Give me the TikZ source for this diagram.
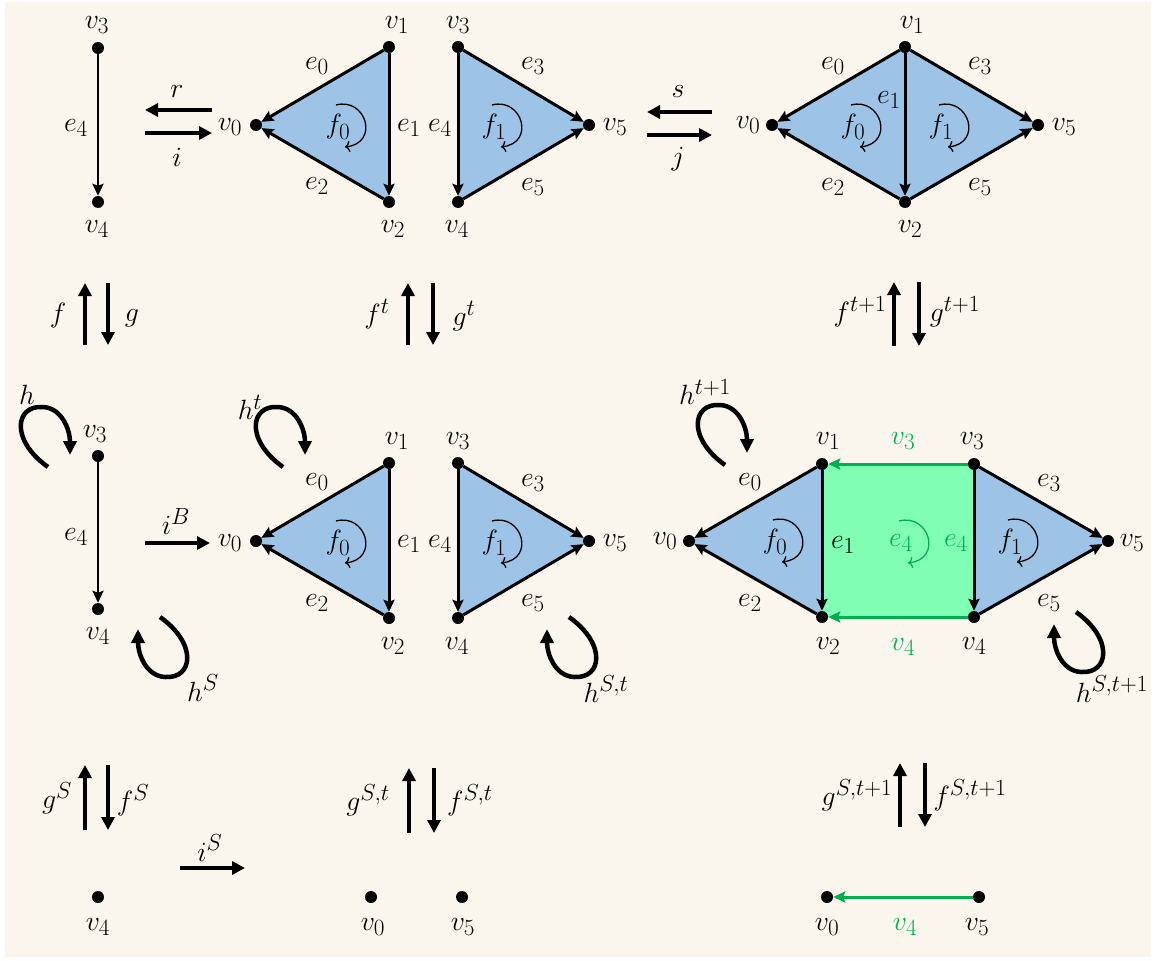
\documentclass[tikz,border=0pt]{standalone}
\usepackage{amsmath, amssymb}
\usepackage{tikz}
\usetikzlibrary{arrows.meta,backgrounds}

\definecolor{paper}{RGB}{250,246,238}
\definecolor{faceblue}{RGB}{157,195,230}
\definecolor{facegreen}{RGB}{128,255,180}
\definecolor{edgegreen}{RGB}{0,176,80}

\tikzset{
  hloop/.pic={\draw[loopy] (0,0) .. controls (-38,-27) and (-33,-62) .. (-5,-60)
      .. controls (14,-59) and (22,-37) .. (22,-12);},
  turn/.pic={\draw[line width=1.3pt, -{To[length=5pt,width=11pt]}]
      (-2,-22) .. controls (28,-30) and (42,16) .. (7,20);},
}

\begin{document}
\begin{tikzpicture}[x=1pt, y=-1pt,
    font=\Huge,
    dot/.style={circle, fill=black, inner sep=0pt, minimum size=12pt},
    lbl/.style={inner sep=0pt, scale=1.12, transform shape},
    edge/.style={line width=3pt, -{Stealth[length=12pt,width=11pt,inset=2pt]}},
    map/.style={line width=4pt, -{Triangle[length=13pt,width=13pt]}},
    loopy/.style={line width=4.5pt, -{Triangle[length=14pt,width=13pt]}}]

    \useasboundingbox (0,0) rectangle (1155,960);

    % vertices
    \node[dot] (a3) at (98,48) {};
    \node[dot] (a4) at (98,202) {};
    \node[dot] (b0) at (256,125) {};
    \node[dot] (b1) at (389,47) {};
    \node[dot] (b2) at (389,202) {};
    \node[dot] (b3) at (458,47) {};
    \node[dot] (b4) at (458,202) {};
    \node[dot] (b5) at (589,125) {};
    \node[dot] (c0) at (772,125) {};
    \node[dot] (c1) at (905,47) {};
    \node[dot] (c2) at (905,202) {};
    \node[dot] (c5) at (1038,125) {};

    \node[dot] (d3) at (98,456) {};
    \node[dot] (d4) at (98,609) {};
    \node[dot] (p0) at (256,541) {};
    \node[dot] (p1) at (389,463) {};
    \node[dot] (p2) at (389,618) {};
    \node[dot] (p3) at (458,463) {};
    \node[dot] (p4) at (458,618) {};
    \node[dot] (p5) at (589,541) {};
    \node[dot] (q0) at (689,541) {};
    \node[dot] (q1) at (822,464) {};
    \node[dot] (q2) at (822,617) {};
    \node[dot] (q3) at (974,464) {};
    \node[dot] (q4) at (974,617) {};
    \node[dot] (q5) at (1108,541) {};

    \node[dot] (s4) at (98,897) {};
    \node[dot] (u0) at (371,897) {};
    \node[dot] (u5) at (462,897) {};
    \node[dot] (w0) at (827,897) {};
    \node[dot] (w5) at (979,897) {};

    \begin{scope}[on background layer]
        \fill[paper] (5,2) rectangle (1151,957);
        \fill[faceblue] (b0.center) -- (b1.center) -- (b2.center) -- cycle;
        \fill[faceblue] (b3.center) -- (b5.center) -- (b4.center) -- cycle;
        \fill[faceblue] (c0.center) -- (c1.center) -- (c5.center) -- (c2.center) -- cycle;
        \fill[faceblue] (p0.center) -- (p1.center) -- (p2.center) -- cycle;
        \fill[faceblue] (p3.center) -- (p5.center) -- (p4.center) -- cycle;
        \fill[faceblue] (q0.center) -- (q1.center) -- (q2.center) -- cycle;
        \fill[faceblue] (q3.center) -- (q5.center) -- (q4.center) -- cycle;
        \fill[facegreen] (q1.center) rectangle (q4.center);
    \end{scope}

    % edges
    \draw[edge, line width=2.4pt] (a3) -- (a4);
    \draw[edge] (b1) -- (b0);
    \draw[edge] (b2) -- (b0);
    \draw[edge] (b1) -- (b2);
    \draw[edge] (b3) -- (b4);
    \draw[edge] (b3) -- (b5);
    \draw[edge] (b4) -- (b5);
    \draw[edge] (c1) -- (c0);
    \draw[edge] (c2) -- (c0);
    \draw[edge] (c1) -- (c2);
    \draw[edge] (c1) -- (c5);
    \draw[edge] (c2) -- (c5);

    \draw[edge, line width=2.4pt] (d3) -- (d4);
    \draw[edge] (p1) -- (p0);
    \draw[edge] (p2) -- (p0);
    \draw[edge] (p1) -- (p2);
    \draw[edge] (p3) -- (p4);
    \draw[edge] (p3) -- (p5);
    \draw[edge] (p4) -- (p5);
    \draw[edge] (q1) -- (q0);
    \draw[edge] (q2) -- (q0);
    \draw[edge] (q1) -- (q2);
    \draw[edge] (q3) -- (q4);
    \draw[edge] (q3) -- (q5);
    \draw[edge] (q4) -- (q5);
    \draw[edge, edgegreen] (q3) -- (q1);
    \draw[edge, edgegreen] (q4) -- (q2);
    \draw[edge, edgegreen] (w5) -- (w0);

    % vertex and edge labels, top row
    \node[lbl] (la3) at (97,25) {$v_3$};
    \node[lbl] (la4) at (97,229) {$v_4$};
    \node[lbl] (lae4) at (76,128) {$e_4$};
    \node[lbl] (lb0) at (230,127) {$v_0$};
    \node[lbl] (lb1) at (397,25) {$v_1$};
    \node[lbl] (lb2) at (393,229) {$v_2$};
    \node[lbl] (lbe0) at (317,66) {$e_0$};
    \node[lbl] (lbe1) at (409,128) {$e_1$};
    \node[lbl] (lbe2) at (317,186) {$e_2$};
    \node[lbl] (lbf0) at (338,127) {$f_0$};
    \node[lbl] (lb3) at (458,25) {$v_3$};
    \node[lbl] (lb4) at (457,229) {$v_4$};
    \node[lbl] (lb5) at (615,127) {$v_5$};
    \node[lbl] (lbe3) at (533,66) {$e_3$};
    \node[lbl] (lbe4) at (440,128) {$e_4$};
    \node[lbl] (lbe5) at (533,187) {$e_5$};
    \node[lbl] (lbf1) at (494,127) {$f_1$};
    \node[lbl] (lc0) at (748,125) {$v_0$};
    \node[lbl] (lc1) at (912,25) {$v_1$};
    \node[lbl] (lc2) at (910,229) {$v_2$};
    \node[lbl] (lc5) at (1064,127) {$v_5$};
    \node[lbl] (lce0) at (833,66) {$e_0$};
    \node[lbl] (lce1) at (889,100) {$e_1$};
    \node[lbl] (lce2) at (833,187) {$e_2$};
    \node[lbl] (lce3) at (980,66) {$e_3$};
    \node[lbl] (lce5) at (980,187) {$e_5$};
    \node[lbl] (lcf0) at (853,127) {$f_0$};
    \node[lbl] (lcf1) at (941,127) {$f_1$};
    \pic at (lbf0) {turn};
    \pic at (lbf1) {turn};
    \pic at (lcf0) {turn};
    \pic at (lcf1) {turn};

    % middle row
    \node[lbl] (ld3) at (95,434) {$v_3$};
    \node[lbl] (ld4) at (98,636) {$v_4$};
    \node[lbl] (lde4) at (76,537) {$e_4$};
    \node[lbl] (lp0) at (230,543) {$v_0$};
    \node[lbl] (lp1) at (397,441) {$v_1$};
    \node[lbl] (lp2) at (393,646) {$v_2$};
    \node[lbl] (lpe0) at (317,482) {$e_0$};
    \node[lbl] (lpe1) at (409,544) {$e_1$};
    \node[lbl] (lpe2) at (317,603) {$e_2$};
    \node[lbl] (lpf0) at (338,543) {$f_0$};
    \node[lbl] (lp3) at (458,441) {$v_3$};
    \node[lbl] (lp4) at (457,646) {$v_4$};
    \node[lbl] (lp5) at (615,543) {$v_5$};
    \node[lbl] (lpe3) at (533,483) {$e_3$};
    \node[lbl] (lpe4) at (440,544) {$e_4$};
    \node[lbl] (lpe5) at (533,603) {$e_5$};
    \node[lbl] (lpf1) at (494,543) {$f_1$};
    \node[lbl] (lq0) at (665,541) {$v_0$};
    \node[lbl] (lq1) at (828,441) {$v_1$};
    \node[lbl] (lq2) at (828,646) {$v_2$};
    \node[lbl] (lq3) at (972,441) {$v_3$};
    \node[lbl] (lq4) at (974,646) {$v_4$};
    \node[lbl] (lq5) at (1132,543) {$v_5$};
    \node[lbl] (lqe0) at (750,482) {$e_0$};
    \node[lbl] (lqe1) at (843,545) {$e_1$};
    \node[lbl] (lqe2) at (750,603) {$e_2$};
    \node[lbl] (lqe3) at (1049,483) {$e_3$};
    \node[lbl] (lqe5) at (1049,603) {$e_5$};
    \node[lbl] (lqf0) at (775,542) {$f_0$};
    \node[lbl] (lqf1) at (1010,542) {$f_1$};
    \node[lbl, edgegreen] (lqg3) at (903,441) {$v_3$};
    \node[lbl, edgegreen] (lqg4) at (903,647) {$v_4$};
    \node[lbl, edgegreen] (lqgf) at (901,543) {$e_4$};
    \node[lbl, edgegreen] (lqge) at (956,543) {$e_4$};
    \pic at (lpf0) {turn};
    \pic at (lpf1) {turn};
    \pic at (lqf0) {turn};
    \pic at (lqf1) {turn};
    \pic[edgegreen] at (lqgf) {turn};

    % bottom row
    \node[lbl] (ls4) at (98,927) {$v_4$};
    \node[lbl] (lu0) at (373,927) {$v_0$};
    \node[lbl] (lu5) at (463,927) {$v_5$};
    \node[lbl] (lw0) at (827,927) {$v_0$};
    \node[lbl] (lw5) at (977,927) {$v_5$};
    \node[lbl, edgegreen] (lwg4) at (905,927) {$v_4$};

    % maps between the pieces
    \coordinate (r1) at (212,110);  \coordinate (r2) at (145,110);
    \coordinate (i1) at (145,133);  \coordinate (i2) at (212,133);
    \coordinate (s1) at (712,112);  \coordinate (s2) at (647,112);
    \coordinate (j1) at (647,135);  \coordinate (j2) at (712,135);
    \coordinate (iB1) at (145,543); \coordinate (iB2) at (210,543);
    \coordinate (iS1) at (180,868); \coordinate (iS2) at (245,868);
    \draw[map] (r1) -- (r2);
    \draw[map] (i1) -- (i2);
    \draw[map] (s1) -- (s2);
    \draw[map] (j1) -- (j2);
    \draw[map] (iB1) -- (iB2);
    \draw[map] (iS1) -- (iS2);
    \node[lbl] (lr) at (177,92) {$r$};
    \node[lbl] (li) at (177,157) {$i$};
    \node[lbl] (ls) at (678,92) {$s$};
    \node[lbl] (lj) at (678,159) {$j$};
    \node[lbl] (liB) at (176,522) {$i^{B}$};
    \node[lbl] (liS) at (210,848) {$i^{S}$};

    % vertical maps
    \coordinate (f1) at (85,345);   \coordinate (f2) at (85,283);
    \coordinate (g1) at (108,283);  \coordinate (g2) at (108,345);
    \coordinate (ft1) at (408,345); \coordinate (ft2) at (408,283);
    \coordinate (gt1) at (433,283); \coordinate (gt2) at (433,345);
    \coordinate (fu1) at (894,346); \coordinate (fu2) at (894,282);
    \coordinate (gu1) at (919,282); \coordinate (gu2) at (919,346);
    \coordinate (gS1) at (85,830);  \coordinate (gS2) at (85,765);
    \coordinate (fS1) at (108,765); \coordinate (fS2) at (108,830);
    \coordinate (gSt1) at (409,833); \coordinate (gSt2) at (409,768);
    \coordinate (fSt1) at (434,768); \coordinate (fSt2) at (434,833);
    \coordinate (gSu1) at (900,827); \coordinate (gSu2) at (900,763);
    \coordinate (fSu1) at (925,763); \coordinate (fSu2) at (925,827);
    \draw[map] (f1) -- (f2);
    \draw[map] (g1) -- (g2);
    \draw[map] (ft1) -- (ft2);
    \draw[map] (gt1) -- (gt2);
    \draw[map] (fu1) -- (fu2);
    \draw[map] (gu1) -- (gu2);
    \draw[map] (gS1) -- (gS2);
    \draw[map] (fS1) -- (fS2);
    \draw[map] (gSt1) -- (gSt2);
    \draw[map] (fSt1) -- (fSt2);
    \draw[map] (gSu1) -- (gSu2);
    \draw[map] (fSu1) -- (fSu2);
    \node[lbl] (lf) at (58,316) {$f$};
    \node[lbl] (lg) at (132,318) {$g$};
    \node[lbl] (lft) at (377,314) {$f^{t}$};
    \node[lbl] (lgt) at (464,316) {$g^{t}$};
    \node[lbl] (lfu) at (860,312) {$f^{t+1}$};
    \node[lbl] (lgu) at (955,312) {$g^{t+1}$};
    \node[lbl] (lgS) at (57,798) {$g^{S}$};
    \node[lbl] (lfS) at (133,800) {$f^{S}$};
    \node[lbl] (lgSt) at (368,800) {$g^{S,t}$};
    \node[lbl] (lfSt) at (470,800) {$f^{S,t}$};
    \node[lbl] (lgSu) at (857,795) {$g^{S,t+1}$};
    \node[lbl] (lfSu) at (970,795) {$f^{S,t+1}$};

    % homotopies
    \pic at (48,467) {hloop};
    \pic at (283,467) {hloop};
    \pic at (725,465) {hloop};
    \pic[rotate=180] at (160,617) {hloop};
    \pic[rotate=180] at (569,617) {hloop};
    \pic[rotate=180] at (1076,612) {hloop};
    \node[lbl] (lh) at (27,395) {$h$};
    \node[lbl] (lht) at (250,407) {$h^{t}$};
    \node[lbl] (lhu) at (705,392) {$h^{t+1}$};
    \node[lbl] (lhS) at (203,688) {$h^{S}$};
    \node[lbl] (lhSt) at (606,689) {$h^{S,t}$};
    \node[lbl] (lhSu) at (1112,689) {$h^{S,t+1}$};
\end{tikzpicture}
\end{document}
